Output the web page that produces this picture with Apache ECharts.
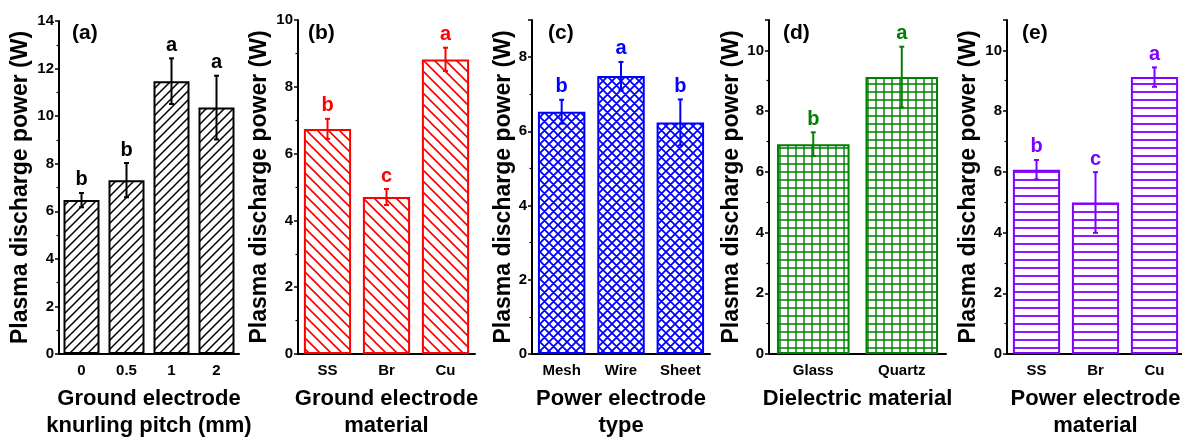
<!DOCTYPE html>
<html>
<head>
<meta charset="utf-8">
<script src="https://cdn.jsdelivr.net/npm/echarts@6/dist/echarts.min.js"></script>
<style>
  html, body { margin: 0; padding: 0; background: #ffffff; }
  #chart { width: 1182px; height: 439px; }
</style>
</head>
<body>
<div id="chart"></div>
<script>
// (a) ground electrode knurling pitch
const pitchLabels = ['0', '0.5', '1', '2'];
const pitchPower = [6.47, 7.31, 11.47, 10.36];
const pitchErr = [0.30, 0.72, 0.96, 1.34];
const pitchGroups = ['b', 'b', 'a', 'a'];

// (b) ground electrode material
const groundLabels = ['SS', 'Br', 'Cu'];
const groundPower = [6.74, 4.70, 8.82];
const groundErr = [0.30, 0.24, 0.35];
const groundGroups = ['b', 'c', 'a'];

// (c) power electrode type
const typeLabels = ['Mesh', 'Wire', 'Sheet'];
const typePower = [6.53, 7.49, 6.24];
const typeErr = [0.32, 0.38, 0.62];
const typeGroups = ['b', 'a', 'b'];

// (d) dielectric material
const dielectricLabels = ['Glass', 'Quartz'];
const dielectricPower = [6.91, 9.12];
const dielectricErr = [0.39, 1.00];
const dielectricGroups = ['b', 'a'];

// (e) power electrode material
const powerMatLabels = ['SS', 'Br', 'Cu'];
const powerMatPower = [6.07, 4.99, 9.12];
const powerMatErr = [0.32, 1.00, 0.32];
const powerMatGroups = ['b', 'c', 'a'];

const FONT = '"Liberation Sans", Arial, Helvetica, sans-serif';

// Small repeating tiles used as bar fills
function hatchTile(kind, color, size, lw) {
  const c = document.createElement('canvas');
  c.width = size; c.height = size;
  const g = c.getContext('2d');
  g.fillStyle = '#ffffff';
  g.fillRect(0, 0, size, size);
  g.strokeStyle = color;
  g.lineWidth = lw;
  g.beginPath();
  const s = size;
  if (kind === 'fwd' || kind === 'cross') {
    g.moveTo(0, s); g.lineTo(s, 0);
    g.moveTo(-1, 1); g.lineTo(1, -1);
    g.moveTo(s - 1, s + 1); g.lineTo(s + 1, s - 1);
  }
  if (kind === 'back' || kind === 'cross') {
    g.moveTo(0, 0); g.lineTo(s, s);
    g.moveTo(-1, s - 1); g.lineTo(1, s + 1);
    g.moveTo(s - 1, -1); g.lineTo(s + 1, 1);
  }
  if (kind === 'grid') {
    g.moveTo(s / 2, 0); g.lineTo(s / 2, s);
    g.moveTo(0, s / 2); g.lineTo(s, s / 2);
  }
  if (kind === 'horiz') {
    g.moveTo(0, s / 2); g.lineTo(s, s / 2);
  }
  g.stroke();
  return { image: c, repeat: 'repeat' };
}

const panels = [
  { tag: '(a)', cats: pitchLabels, vals: pitchPower, errs: pitchErr, groups: pitchGroups,
    color: '#000000', fill: hatchTile('fwd', '#000000', 9, 1.5),
    left: 59, width: 180, top: 21, max: 14, nameGap: 27, barWidth: '80%',
    xName: 'Ground electrode\nknurling pitch (mm)', tagLeft: 72 },
  { tag: '(b)', cats: groundLabels, vals: groundPower, errs: groundErr, groups: groundGroups,
    color: '#ff0000', fill: hatchTile('back', '#ff0000', 11, 1.6),
    left: 298, width: 177, top: 20, max: 10, nameGap: 27, barWidth: '80%',
    xName: 'Ground electrode\nmaterial', tagLeft: 308 },
  { tag: '(c)', cats: typeLabels, vals: typePower, errs: typeErr, groups: typeGroups,
    color: '#0000ff', fill: hatchTile('cross', '#0000ff', 9, 1.8),
    left: 532, width: 178, top: 20, max: 9, nameGap: 17, barWidth: '80%',
    xName: 'Power electrode\ntype', tagLeft: 548 },
  { tag: '(d)', cats: dielectricLabels, vals: dielectricPower, errs: dielectricErr, groups: dielectricGroups,
    color: '#008000', fill: hatchTile('grid', '#008000', 8, 1.4),
    left: 769, width: 177, top: 20, max: 11, nameGap: 26, barWidth: '82%',
    xName: 'Dielectric material', tagLeft: 783 },
  { tag: '(e)', cats: powerMatLabels, vals: powerMatPower, errs: powerMatErr, groups: powerMatGroups,
    color: '#8000ff', fill: hatchTile('horiz', '#8000ff', 8, 1.8),
    left: 1007, width: 177, top: 20, max: 11, nameGap: 27, barWidth: '80%',
    xName: 'Power electrode\nmaterial', tagLeft: 1022 }
];

function errorBarRenderer(errs, groups, color) {
  return function (params, api) {
    const i = params.dataIndex;
    const x = api.value(0);
    const v = api.value(1);
    const e = errs[i];
    const hi = api.coord([x, v + e]);
    const lo = api.coord([x, v - e]);
    const cap = 2.5;
    const st = { stroke: color, lineWidth: 2 };
    return {
      type: 'group',
      children: [
        { type: 'line', shape: { x1: hi[0], y1: hi[1], x2: lo[0], y2: lo[1] }, style: st },
        { type: 'line', shape: { x1: hi[0] - cap, y1: hi[1], x2: hi[0] + cap, y2: hi[1] }, style: st },
        { type: 'line', shape: { x1: lo[0] - cap, y1: lo[1], x2: lo[0] + cap, y2: lo[1] }, style: st },
        { type: 'text', style: {
            text: groups[i], x: hi[0], y: hi[1] - 3,
            align: 'center', verticalAlign: 'bottom',
            fill: color, font: 'bold 20px ' + FONT } }
      ]
    };
  };
}

const option = {
  backgroundColor: '#ffffff',
  animation: false,
  title: [], grid: [], xAxis: [], yAxis: [], series: []
};

panels.forEach(function (p, k) {
  option.grid.push({
    left: p.left, width: p.width, top: p.top, height: 354 - p.top,
    containLabel: false, outerBoundsMode: 'none'
  });
  option.title.push({
    text: p.tag, left: p.tagLeft, top: 23, padding: 0,
    textStyle: { fontFamily: FONT, fontWeight: 'bold', fontSize: 21, color: '#000' }
  });
  // category axis with labels and centred ticks
  option.xAxis.push({
    type: 'category', gridIndex: k, data: p.cats,
    name: p.xName, nameLocation: 'middle', nameGap: 31,
    nameTextStyle: { fontFamily: FONT, fontWeight: 'bold', fontSize: 22, color: '#000', lineHeight: 27 },
    axisLine: { lineStyle: { color: '#000', width: 2 } },
    axisTick: { alignWithLabel: true, length: 4, lineStyle: { color: '#000', width: 1.5 } },
    axisLabel: { margin: 9, fontFamily: FONT, fontWeight: 'bold', fontSize: 15, color: '#000' },
    splitLine: { show: false }
  });
  // companion axis for the short ticks between categories
  option.xAxis.push({
    type: 'category', gridIndex: k, data: p.cats, position: 'bottom',
    axisLine: { show: false },
    axisTick: { length: 3, lineStyle: { color: '#000', width: 1.2 } },
    axisLabel: { show: false }, splitLine: { show: false }
  });
  option.yAxis.push({
    type: 'value', gridIndex: k, min: 0, max: p.max, interval: 2,
    name: 'Plasma discharge power (W)', nameLocation: 'middle', nameGap: p.nameGap,
    nameTextStyle: { fontFamily: FONT, fontWeight: 'bold', fontSize: 23, color: '#000' },
    axisLine: { show: true, lineStyle: { color: '#000', width: 2 } },
    axisTick: { show: true, length: 4, lineStyle: { color: '#000', width: 1.5 } },
    minorTick: { show: true, splitNumber: 2, length: 2.5, lineStyle: { color: '#000', width: 1.2 } },
    axisLabel: { margin: 5, showMaxLabel: p.max % 2 === 0, fontFamily: FONT, fontWeight: 'bold', fontSize: 15, color: '#000' },
    splitLine: { show: false }
  });
  option.series.push({
    type: 'bar', xAxisIndex: 2 * k, yAxisIndex: k,
    data: p.vals, barWidth: p.barWidth,
    itemStyle: { color: p.fill, borderColor: p.color, borderWidth: 2 },
    emphasis: { disabled: true }
  });
  option.series.push({
    type: 'custom', xAxisIndex: 2 * k, yAxisIndex: k,
    data: p.vals.map(function (v, i) { return [i, v]; }),
    encode: { x: 0, y: 1 },
    renderItem: errorBarRenderer(p.errs, p.groups, p.color),
    z: 5
  });
});

const chart = echarts.init(document.getElementById('chart'), null, { renderer: 'canvas' });
chart.setOption(option);
</script>
</body>
</html>
